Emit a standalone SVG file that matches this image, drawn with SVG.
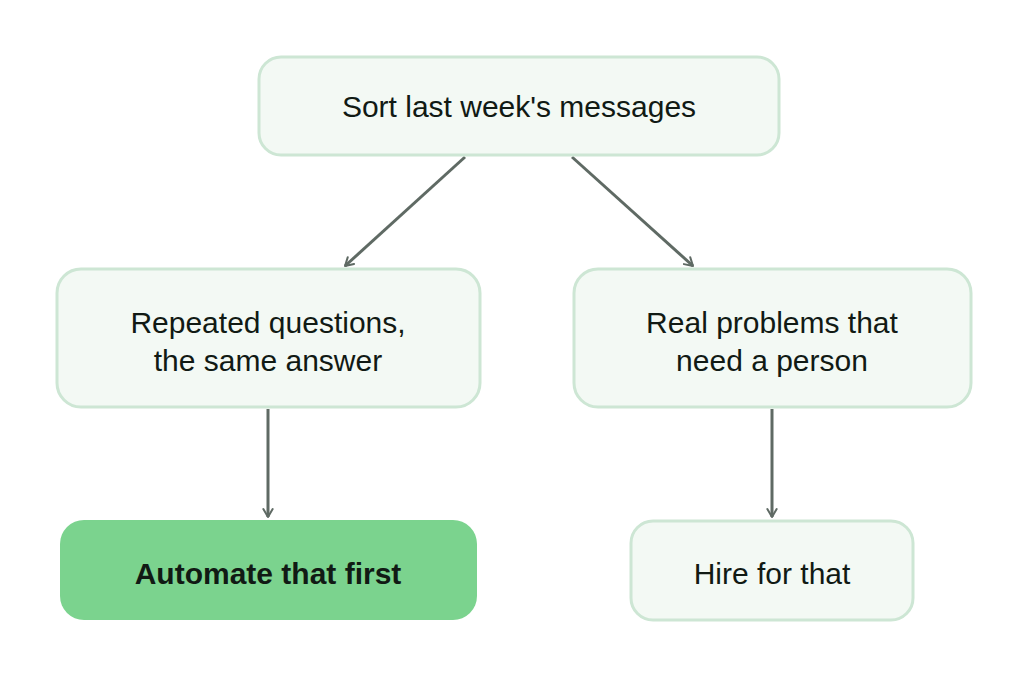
<svg xmlns="http://www.w3.org/2000/svg" width="1028" height="677" viewBox="0 0 1028 677">
<style>
.n{fill:#f3f9f4;stroke:#cde6d4;stroke-width:3}
.t{font-family:"Liberation Sans",Arial,sans-serif;font-size:30px;fill:#111a14;text-anchor:middle}
.e{stroke:#5f6a64;stroke-width:3;fill:none;marker-end:url(#a)}
</style>
<defs><marker id="a" viewBox="0 0 12 12" refX="10" refY="6" markerWidth="8" markerHeight="8" markerUnits="userSpaceOnUse" orient="auto" overflow="visible"><path d="M-2,-1 L10,6 L-2,13" fill="none" stroke="#5f6a64" stroke-width="3" stroke-linejoin="round" stroke-linecap="round"/></marker></defs>
<rect width="1028" height="677" fill="#fff"/>
<g id="edges">
<path class="e" d="M465,157 L345,266"/>
<path class="e" d="M572,157 L693,266"/>
<path class="e" d="M268,409 L268,517"/>
<path class="e" d="M772,409 L772,517"/>
</g>
<g id="top"><rect class="n" x="259" y="57" width="520" height="98" rx="22"/><text class="t" x="519" y="117">Sort last week's messages</text></g>
<g id="left"><rect class="n" x="57" y="269" width="423" height="138" rx="24"/><text class="t" x="268" y="333">Repeated questions,</text><text class="t" x="268" y="371">the same answer</text></g>
<g id="right"><rect class="n" x="574" y="269" width="397" height="138" rx="24"/><text class="t" x="772" y="333">Real problems that</text><text class="t" x="772" y="371">need a person</text></g>
<g id="auto"><rect x="60" y="520" width="417" height="100" rx="24" fill="#7bd38e"/><text class="t" x="268" y="584" font-weight="bold">Automate that first</text></g>
<g id="hire"><rect class="n" x="631" y="521" width="282" height="99" rx="22"/><text class="t" x="772" y="584">Hire for that</text></g>
</svg>
